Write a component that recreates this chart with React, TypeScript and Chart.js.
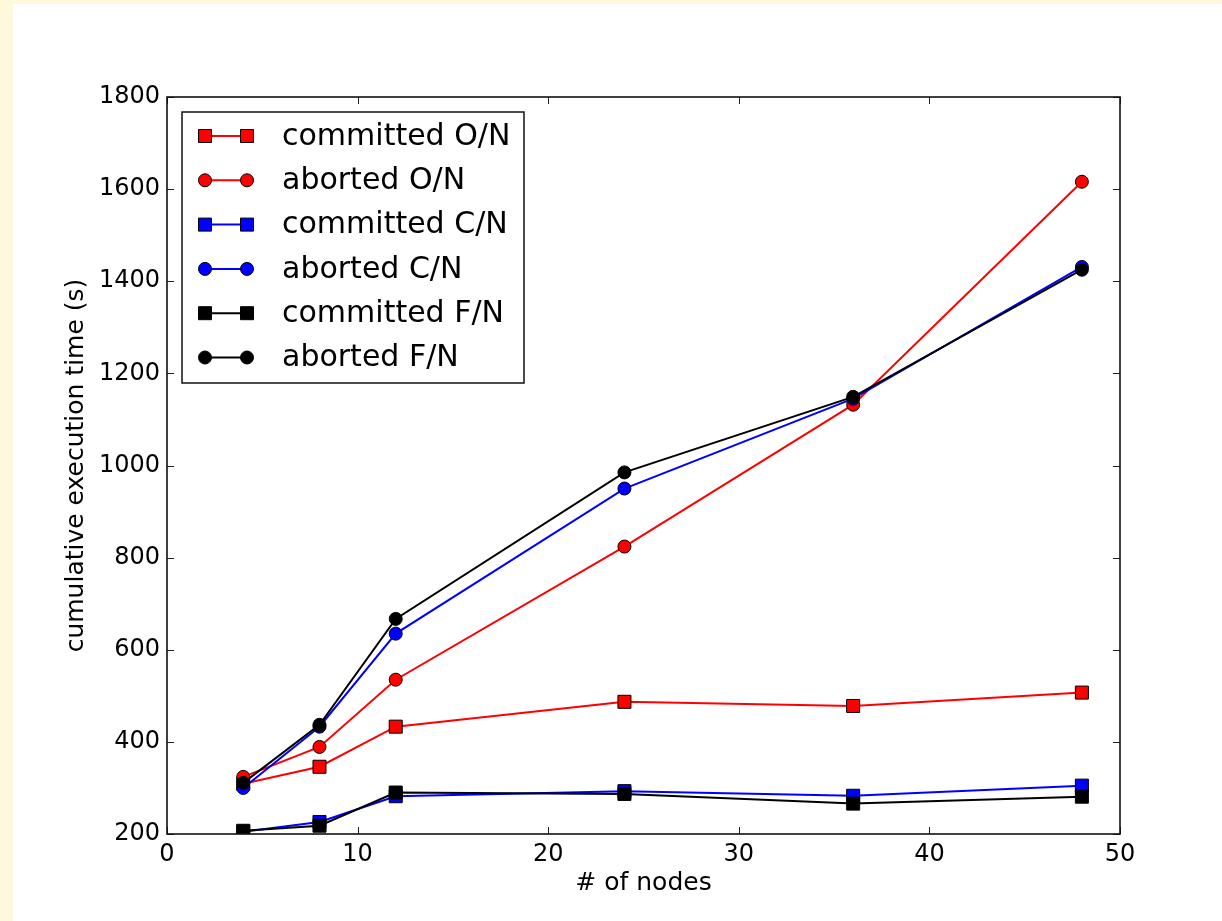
import React, { useEffect, useRef } from "react";
import { Chart, registerables } from "chart.js";

Chart.register(...registerables);

const nodes = [4, 8, 12, 24, 36, 48];
const committedON = [309, 346, 433, 487, 478, 507];
const abortedON = [324, 389, 535, 824, 1132, 1616];
const committedCN = [205, 226, 282, 293, 283, 305];
const abortedCN = [300, 433, 635, 950, 1145, 1431];
const committedFN = [207, 218, 290, 287, 266, 281];
const abortedFN = [311, 437, 667, 985, 1149, 1425];

const seriesNames = [
  "committed O/N",
  "aborted O/N",
  "committed C/N",
  "aborted C/N",
  "committed F/N",
  "aborted F/N",
];
const seriesValues = [committedON, abortedON, committedCN, abortedCN, committedFN, abortedFN];
const seriesColors = ["#ff0000", "#ff0000", "#0000ff", "#0000ff", "#000000", "#000000"];
const seriesMarkers = ["rect", "circle", "rect", "circle", "rect", "circle"];

const xTicks = [0, 10, 20, 30, 40, 50];
const yTicks = [200, 400, 600, 800, 1000, 1200, 1400, 1600, 1800];

const FONT = "'DejaVu Sans', 'Liberation Sans', sans-serif";

function drawMarker(ctx: CanvasRenderingContext2D, style: string, x: number, y: number, fill: string) {
  ctx.save();
  ctx.fillStyle = fill;
  ctx.strokeStyle = "#000";
  ctx.lineWidth = 1;
  ctx.beginPath();
  if (style === "rect") {
    ctx.rect(x - 6.5, y - 6.5, 13, 13);
  } else {
    ctx.arc(x, y, 6.5, 0, Math.PI * 2);
  }
  ctx.fill();
  ctx.stroke();
  ctx.restore();
}

const framePlugin = {
  id: "frameTicks",
  afterDatasetsDraw(chart: any) {
    const { ctx, chartArea } = chart;
    const { left, right, top, bottom } = chartArea;
    const xs = chart.scales.x;
    const ys = chart.scales.y;
    ctx.save();
    ctx.strokeStyle = "#222";
    ctx.lineWidth = 1;
    const tl = 7;
    ctx.beginPath();
    xTicks.forEach((v) => {
      const px = Math.round(xs.getPixelForValue(v)) + 0.5;
      ctx.moveTo(px, bottom);
      ctx.lineTo(px, bottom - tl);
      ctx.moveTo(px, top);
      ctx.lineTo(px, top + tl);
    });
    yTicks.forEach((v) => {
      const py = Math.round(ys.getPixelForValue(v)) + 0.5;
      ctx.moveTo(left, py);
      ctx.lineTo(left + tl, py);
      ctx.moveTo(right, py);
      ctx.lineTo(right - tl, py);
    });
    ctx.stroke();
    ctx.strokeStyle = "#111";
    ctx.lineWidth = 1.6;
    ctx.strokeRect(left, top, right - left, bottom - top);
    ctx.restore();
  },
};

const legendPlugin = {
  id: "mplLegend",
  afterDraw(chart: any) {
    const { ctx, chartArea } = chart;
    const bx = chartArea.left + 15;
    const by = chartArea.top + 15;
    const bw = 342;
    const bh = 271;
    ctx.save();
    ctx.fillStyle = "#fff";
    ctx.fillRect(bx, by, bw, bh);
    ctx.strokeStyle = "#111";
    ctx.lineWidth = 1.5;
    ctx.strokeRect(bx, by, bw, bh);
    chart.data.datasets.forEach((ds: any, i: number) => {
      const cy = chartArea.top + 39 + i * 44.3;
      const x1 = chartArea.left + 38;
      const x2 = chartArea.left + 80;
      ctx.strokeStyle = ds.borderColor;
      ctx.lineWidth = 2;
      ctx.beginPath();
      ctx.moveTo(x1, cy);
      ctx.lineTo(x2, cy);
      ctx.stroke();
      drawMarker(ctx, ds.pointStyle, x1, cy, ds.pointBackgroundColor);
      drawMarker(ctx, ds.pointStyle, x2, cy, ds.pointBackgroundColor);
      ctx.fillStyle = "#000";
      ctx.font = `30px ${FONT}`;
      ctx.textAlign = "left";
      ctx.textBaseline = "middle";
      ctx.fillText(ds.label, chartArea.left + 115, cy + 1);
    });
    ctx.restore();
  },
};

export default function App() {
  const canvasRef = useRef<HTMLCanvasElement | null>(null);

  useEffect(() => {
    if (!canvasRef.current) return;
    const datasets = seriesNames.map((name, i) => ({
      label: name,
      data: nodes.map((x, j) => ({ x, y: seriesValues[i][j] })),
      borderColor: seriesColors[i],
      backgroundColor: seriesColors[i],
      pointBackgroundColor: seriesColors[i],
      pointBorderColor: "#000",
      pointBorderWidth: 1,
      pointStyle: seriesMarkers[i],
      pointRadius: seriesMarkers[i] === "rect" ? 9.2 : 6.5,
      borderWidth: 2,
      tension: 0,
      fill: false,
      order: seriesNames.length - i,
    }));
    const chart = new Chart(canvasRef.current, {
      type: "line",
      data: { datasets },
      options: {
        animation: false,
        responsive: false,
        maintainAspectRatio: false,
        layout: { padding: { left: 0, top: 93, right: 102, bottom: 0 } },
        plugins: {
          legend: { display: false },
          tooltip: { enabled: false },
        },
        scales: {
          x: {
            type: "linear",
            min: 0,
            max: 50,
            afterBuildTicks: (scale: any) => {
              scale.ticks = xTicks.map((v) => ({ value: v }));
            },
            afterFit: (scale: any) => {
              scale.height = 87;
            },
            grid: { display: false, drawTicks: false },
            border: { display: false },
            ticks: {
              color: "#000",
              padding: 6,
              font: { family: FONT, size: 24 },
              maxRotation: 0,
              autoSkip: false,
              callback: (v: any) => String(v),
            },
            title: {
              display: true,
              text: "# of nodes",
              color: "#000",
              font: { family: FONT, size: 25 },
              padding: { top: 0, bottom: 23 },
            },
          },
          y: {
            type: "linear",
            min: 200,
            max: 1800,
            afterBuildTicks: (scale: any) => {
              scale.ticks = yTicks.map((v) => ({ value: v }));
            },
            afterFit: (scale: any) => {
              scale.width = 154;
            },
            grid: { display: false, drawTicks: false },
            border: { display: false },
            ticks: {
              color: "#000",
              padding: 7,
              font: { family: FONT, size: 24 },
              autoSkip: false,
              callback: (v: any) => String(v),
            },
            title: {
              display: true,
              text: "cumulative execution time (s)",
              color: "#000",
              font: { family: FONT, size: 25 },
              padding: { top: 48, bottom: 0 },
            },
          },
        },
      },
      plugins: [framePlugin, legendPlugin],
    } as any);
    return () => chart.destroy();
  }, []);

  return (
    <div
      style={{
        position: "absolute",
        left: 0,
        top: 0,
        width: 1222,
        height: 921,
        background: "#fff8dc",
        overflow: "hidden",
      }}
    >
      <canvas
        ref={canvasRef}
        width={1209}
        height={917}
        style={{ position: "absolute", left: 13, top: 4, width: 1209, height: 917, background: "#fff" }}
      />
    </div>
  );
}
